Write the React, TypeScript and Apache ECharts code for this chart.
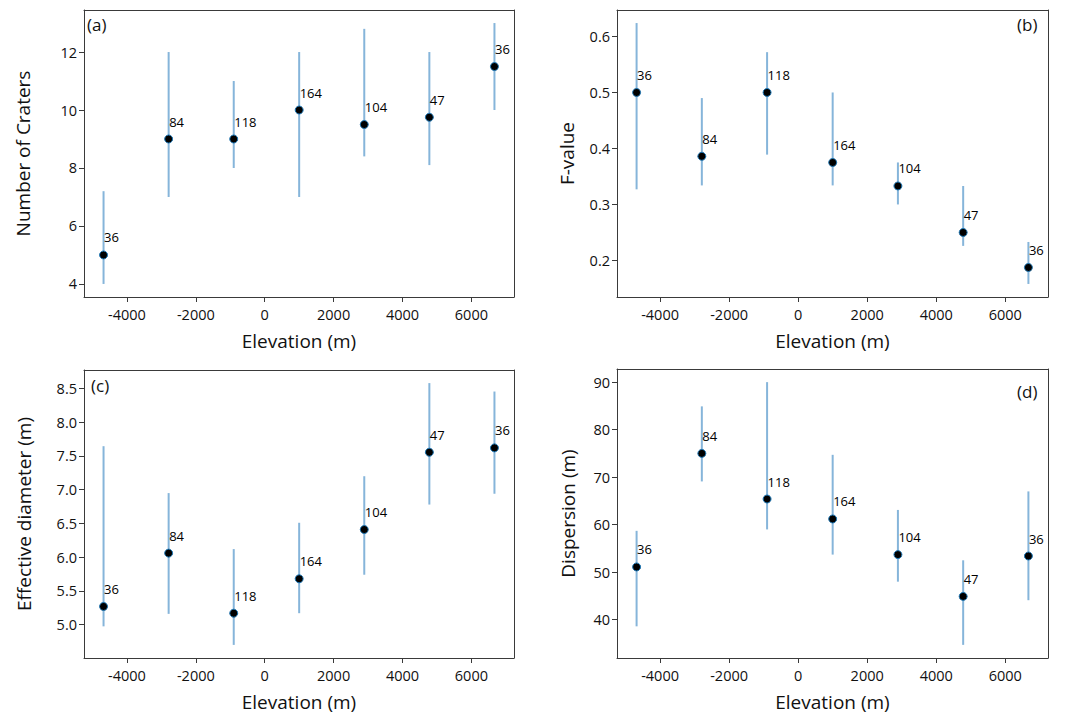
import React, { useEffect, useRef } from "react";
import * as echarts from "echarts";

const elevation = [-4680, -2790, -900, 1000, 2890, 4780, 6670];
const counts = [36, 84, 118, 164, 104, 47, 36];
const xTicks = [-4000, -2000, 0, 2000, 4000, 6000];

const craters = [5, 9, 9, 10, 9.5, 9.75, 11.5];
const cratersLow = [4, 7, 8, 7, 8.4, 8.1, 10];
const cratersHigh = [7.2, 12, 11, 12, 12.8, 12, 13];
const cratersTicks = [4, 6, 8, 10, 12];

const fValue = [0.5, 0.386, 0.5, 0.375, 0.333, 0.25, 0.1875];
const fLow = [0.327, 0.334, 0.389, 0.334, 0.3, 0.226, 0.158];
const fHigh = [0.624, 0.49, 0.572, 0.5, 0.375, 0.333, 0.233];
const fTicks = [0.2, 0.3, 0.4, 0.5, 0.6];

const diameter = [5.27, 6.06, 5.17, 5.68, 6.41, 7.555, 7.62];
const diameterLow = [4.975, 5.16, 4.7, 5.17, 5.74, 6.78, 6.94];
const diameterHigh = [7.645, 6.95, 6.12, 6.51, 7.2, 8.58, 8.455];
const diameterTicks = [5.0, 5.5, 6.0, 6.5, 7.0, 7.5, 8.0, 8.5];

const dispersion = [51.1, 75, 65.4, 61.2, 53.7, 44.9, 53.4];
const dispersionLow = [38.6, 69.1, 59, 53.7, 48, 34.7, 44.1];
const dispersionHigh = [58.7, 84.9, 90, 74.7, 63.1, 52.5, 67];
const dispersionTicks = [40, 50, 60, 70, 80, 90];

const panels = [
  { name: "Number of Craters", tag: "(a)", mean: craters, low: cratersLow, high: cratersHigh, ticks: cratersTicks, dec: 0 },
  { name: "F-value", tag: "(b)", mean: fValue, low: fLow, high: fHigh, ticks: fTicks, dec: 1 },
  { name: "Effective diameter (m)", tag: "(c)", mean: diameter, low: diameterLow, high: diameterHigh, ticks: diameterTicks, dec: 1 },
  { name: "Dispersion (m)", tag: "(d)", mean: dispersion, low: dispersionLow, high: dispersionHigh, ticks: dispersionTicks, dec: 0 },
];

const FONT = "Open Sans";
const TXT = "#111";
const SPINE = "#3a3a3a";
const ERR = "#86b5da";

const grids = [
  { left: 84, top: 10, width: 430, height: 287 },
  { left: 617, top: 10, width: 431, height: 287 },
  { left: 84, top: 370, width: 430, height: 288 },
  { left: 617, top: 369, width: 431, height: 289 },
];
const yNameGaps = [52, 41, 51, 40];

function pad(lo: number, hi: number) {
  const r = hi - lo;
  return [lo - 0.05 * r, hi + 0.05 * r];
}

export default function App() {
  const ref = useRef<HTMLDivElement>(null);
  useEffect(() => {
    if (!ref.current) return;
    const chart = echarts.init(ref.current, null, { renderer: "svg" });
    const [xmin, xmax] = pad(Math.min(...elevation), Math.max(...elevation));
    const xAxis: any[] = [];
    const yAxis: any[] = [];
    const series: any[] = [];
    panels.forEach((p, i) => {
      const [ymin, ymax] = pad(Math.min(...p.low), Math.max(...p.high));
      xAxis.push({
        type: "value",
        gridIndex: i,
        min: xmin,
        max: xmax,
        name: "Elevation (m)",
        nameLocation: "middle",
        nameGap: 34,
        nameTextStyle: { fontFamily: FONT, fontSize: 19, color: TXT },
        axisLine: { show: true, onZero: false, lineStyle: { color: SPINE, width: 1 } },
        axisTick: { show: true, length: 5, customValues: xTicks, lineStyle: { color: SPINE } },
        axisLabel: { customValues: xTicks, fontFamily: FONT, fontSize: 14.5, color: TXT, margin: 10, formatter: (v: number) => String(v) },
        splitLine: { show: false },
      });
      xAxis.push({
        type: "value", gridIndex: i, position: "top", min: xmin, max: xmax,
        axisLine: { show: true, onZero: false, lineStyle: { color: SPINE, width: 1 } },
        axisTick: { show: false }, axisLabel: { show: false }, splitLine: { show: false },
      });
      yAxis.push({
        type: "value",
        gridIndex: i,
        min: ymin,
        max: ymax,
        name: p.name,
        nameLocation: "middle",
        nameGap: yNameGaps[i],
        nameTextStyle: { fontFamily: FONT, fontSize: 19, color: TXT },
        axisLine: { show: true, onZero: false, lineStyle: { color: SPINE, width: 1 } },
        axisTick: { show: true, length: 5, customValues: p.ticks, lineStyle: { color: SPINE } },
        axisLabel: { customValues: p.ticks, fontFamily: FONT, fontSize: 14.5, color: TXT, margin: 7, formatter: (v: number) => v.toFixed(p.dec) },
        splitLine: { show: false },
      });
      yAxis.push({
        type: "value", gridIndex: i, position: "right", min: ymin, max: ymax,
        axisLine: { show: true, onZero: false, lineStyle: { color: SPINE, width: 1 } },
        axisTick: { show: false }, axisLabel: { show: false }, splitLine: { show: false },
      });
      series.push({
        type: "custom",
        xAxisIndex: i * 2,
        yAxisIndex: i * 2,
        data: elevation.map((x, k) => [x, p.low[k], p.high[k]]),
        encode: { x: 0, y: [1, 2] },
        renderItem: (params: any, api: any) => {
          const a = api.coord([api.value(0), api.value(1)]);
          const b = api.coord([api.value(0), api.value(2)]);
          return {
            type: "line",
            shape: { x1: a[0], y1: a[1], x2: b[0], y2: b[1] },
            style: { stroke: ERR, lineWidth: 2 },
          };
        },
        z: 2,
      });
      series.push({
        type: "scatter",
        xAxisIndex: i * 2,
        yAxisIndex: i * 2,
        data: elevation.map((x, k) => [x, p.mean[k], counts[k]]),
        symbol: "circle",
        symbolSize: 8,
        itemStyle: { color: "#000", borderColor: "#1f77b4", borderWidth: 1, opacity: 1 },
        label: {
          show: true,
          position: [5, -13],
          align: "left",
          verticalAlign: "middle",
          formatter: (d: any) => String(d.value[2]),
          fontFamily: FONT,
          fontSize: 13,
          color: "#000",
        },
        z: 3,
      });
    });
    chart.setOption({
      animation: false,
      backgroundColor: "#fff",
      grid: grids.map((g) => ({ ...g, containLabel: false })),
      xAxis,
      yAxis,
      series,
      graphic: [
        { type: "text", left: 87, top: 16, style: { text: "(a)", fontFamily: FONT, fontSize: 17, fill: TXT } },
        { type: "text", left: 1017, top: 16, style: { text: "(b)", fontFamily: FONT, fontSize: 17, fill: TXT } },
        { type: "text", left: 91, top: 377, style: { text: "(c)", fontFamily: FONT, fontSize: 17, fill: TXT } },
        { type: "text", left: 1017, top: 383, style: { text: "(d)", fontFamily: FONT, fontSize: 17, fill: TXT } },
      ],
    });
    return () => chart.dispose();
  }, []);
  return (
    <div
      ref={ref}
      style={{ position: "fixed", left: 0, top: 0, width: 1068, height: 713, background: "#fff" }}
    />
  );
}
